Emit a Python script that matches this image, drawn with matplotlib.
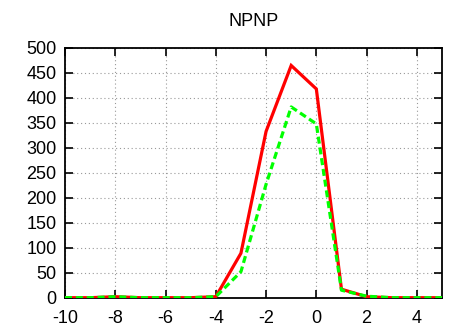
import matplotlib
matplotlib.use("Agg")
import matplotlib.pyplot as plt

x = [-10, -9, -8, -7, -6, -5, -4, -3, -2, -1, 0, 1, 2, 3, 4, 5]
red_vals = [0, 0, 2, 0, 0, 0, 2, 89, 333, 465, 418, 17, 2, 0, 0, 0]
green_vals = [0, 0, 2, 0, 0, 0, 2, 52, 227, 382, 348, 15, 3, 0, 0, 0]
xticks = [-10, -8, -6, -4, -2, 0, 2, 4]
yticks = list(range(0, 501, 50))

plt.rcParams['font.family'] = ['Liberation Sans', 'DejaVu Sans']
plt.rcParams['axes.unicode_minus'] = False

fig = plt.figure(figsize=(4.67, 3.26), dpi=100)
ax = fig.add_axes([65 / 467, 1 - 297.7 / 326, 377 / 467, 249.7 / 326])

ax.plot(x, red_vals, color='#ff0000', lw=2.3, solid_joinstyle='miter', zorder=3)
ax.plot(x, green_vals, color='#00ff00', lw=2.3, ls=(0, (2.2, 1.2)), zorder=4)

ax.set_xlim(-10, 5)
ax.set_ylim(0, 500)
ax.set_xticks(xticks)
ax.set_yticks(yticks)
ax.grid(True, color='#999999', ls=(0, (1, 2.5)), lw=0.8)
ax.tick_params(direction='in', top=True, right=True, length=6, width=1.2,
               labelsize=13)
ax.tick_params(axis='x', pad=9)
ax.tick_params(axis='y', pad=6)
for s in ax.spines.values():
    s.set_linewidth(1.3)
ax.set_title('NPNP', fontsize=13, pad=16)

fig.savefig('out.png', dpi=100)
